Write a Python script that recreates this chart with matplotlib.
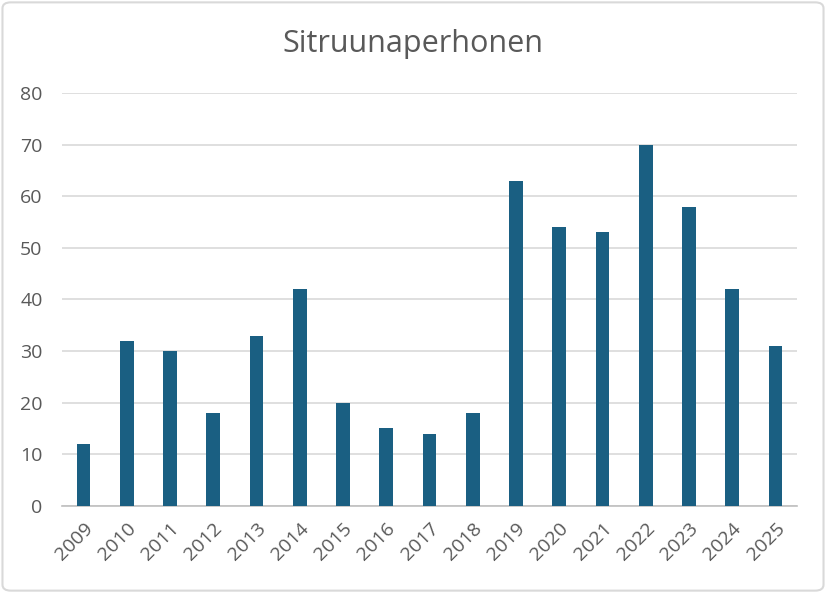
import matplotlib.pyplot as plt
from matplotlib.patches import FancyBboxPatch

# Data
years = ["2009", "2010", "2011", "2012", "2013", "2014", "2015", "2016", "2017",
         "2018", "2019", "2020", "2021", "2022", "2023", "2024", "2025"]
counts = [12, 32, 30, 18, 33, 42, 20, 15, 14, 18, 63, 54, 53, 70, 58, 42, 31]

plt.rcParams['font.family'] = ['Open Sans', 'DejaVu Sans']
text_gray = '#595959'
bar_color = '#1a5f82'

fig = plt.figure(figsize=(8.26, 5.93), dpi=100)
ax = fig.add_axes([0.075, 0.147, 0.89, 0.696])

ax.bar(range(len(years)), counts, width=0.32, color=bar_color, zorder=3)

ax.set_ylim(0, 80)
ax.set_xlim(-0.5, len(years) - 0.5)
ax.set_yticks(range(0, 81, 10))
ax.set_xticks(range(len(years)))
ax.set_xticklabels(years, rotation=45, ha='right', rotation_mode='anchor')

ax.grid(axis='y', color='#d9d9d9', linewidth=1.2, zorder=0)
for side in ['top', 'right', 'left']:
    ax.spines[side].set_visible(False)
ax.spines['bottom'].set_color('#bfbfbf')
ax.spines['bottom'].set_linewidth(1.2)
ax.tick_params(axis='both', length=0, labelsize=14, labelcolor=text_gray)
ax.tick_params(axis='y', pad=14)
ax.tick_params(axis='x', pad=10)

fig.text(0.5, 0.925, "Sitruunaperhonen", ha='center', va='center',
         fontsize=22, color=text_gray)

# light border around the chart area
border = FancyBboxPatch((0.003, 0.004), 0.994, 0.992, boxstyle="round,pad=0,rounding_size=0.01",
                        transform=fig.transFigure, fill=False, edgecolor='#d9d9d9', linewidth=1.5)
fig.patches.append(border)

fig.savefig("out.png", dpi=100)
